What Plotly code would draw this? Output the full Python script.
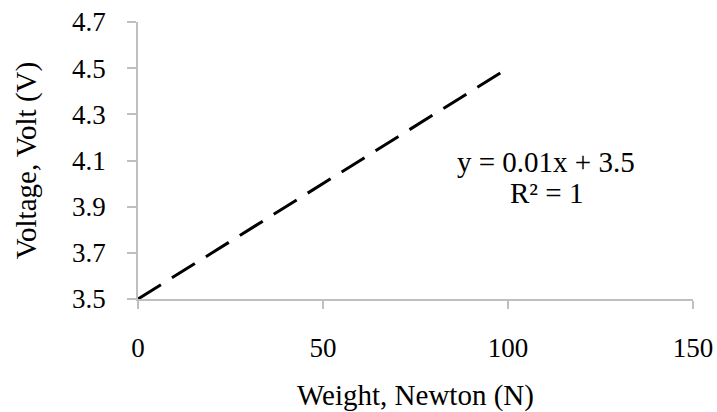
import plotly.graph_objects as go

weight_n = [0, 100]
voltage_v = [3.5, 4.5]
x_ticks = [0, 50, 100, 150]
y_ticks = [3.5, 3.7, 3.9, 4.1, 4.3, 4.5, 4.7]
eq_lines = ["y = 0.01x + 3.5", "R² = 1"]
eq_pos_x = 110.3
eq_pos_y = [4.093, 3.96]

FONT = "Liberation Serif, Times New Roman, serif"
AXIS_COLOR = "#BFBFBF"

fig = go.Figure()
fig.add_trace(go.Scatter(
    x=weight_n, y=voltage_v, mode="lines",
    line=dict(color="black", width=3, dash="27px,13px"),
    showlegend=False, hoverinfo="skip",
))

for txt, yy in zip(eq_lines, eq_pos_y):
    fig.add_annotation(
        x=eq_pos_x, y=yy, xref="x", yref="y",
        text=txt, showarrow=False, align="center",
        font=dict(family=FONT, size=29, color="black"),
    )

fig.update_xaxes(
    range=[0, 150], tickvals=x_ticks, ticktext=[str(v) for v in x_ticks],
    showline=True, linecolor=AXIS_COLOR, linewidth=1.5,
    ticks="outside", ticklen=8, tickcolor=AXIS_COLOR, tickwidth=1.5,
    showgrid=False, zeroline=False, automargin=False,
    tickfont=dict(family=FONT, size=27, color="black"),
    ticklabelstandoff=16,
    title=dict(text="Weight, Newton (N)", font=dict(family=FONT, size=29, color="black"), standoff=27),
)
fig.update_yaxes(
    range=[3.5, 4.7], tickvals=y_ticks, ticktext=[f"{v:.1f}" for v in y_ticks],
    showline=True, linecolor=AXIS_COLOR, linewidth=1.5,
    ticks="outside", ticklen=9, tickcolor=AXIS_COLOR, tickwidth=1.5,
    showgrid=False, zeroline=False, automargin=False,
    tickfont=dict(family=FONT, size=27, color="black"),
    ticklabelstandoff=16,
    title=dict(text="Voltage, Volt (V)", font=dict(family=FONT, size=29, color="black"), standoff=27),
)

fig.update_layout(
    width=717, height=412,
    margin=dict(l=138, r=24, t=22, b=113, autoexpand=False),
    paper_bgcolor="white", plot_bgcolor="white",
)

fig.write_html("out.html")
